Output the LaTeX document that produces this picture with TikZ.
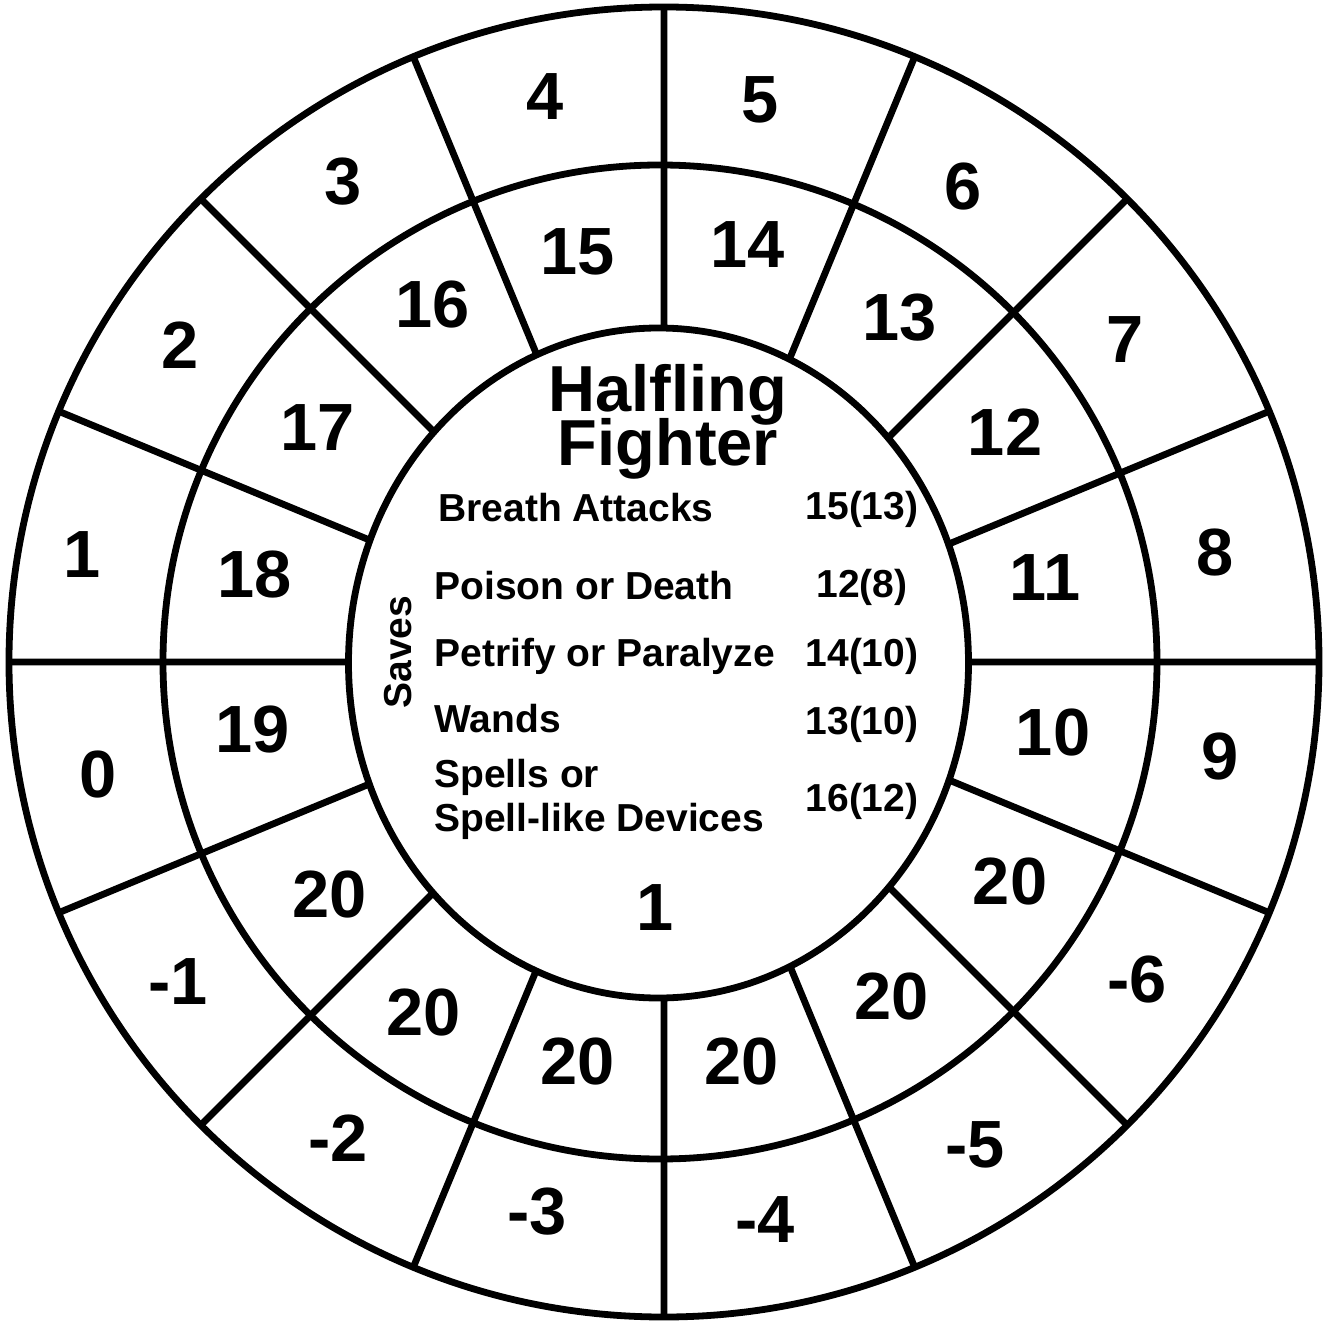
\documentclass[tikz,border=0pt]{standalone}
\usepackage{fontspec}
\setmainfont{Liberation Sans}
\begin{document}
\begin{tikzpicture}[line width=0.068cm,
  num/.style={font=\bfseries\fontsize{19}{19}\selectfont,inner sep=0pt},
  title/.style={anchor=base,font=\bfseries\fontsize{18.5}{18.5}\selectfont,inner sep=0pt},
  row/.style={anchor=base west,font=\bfseries\fontsize{11.1}{13}\selectfont,inner sep=0pt},
  val/.style={anchor=base,font=\bfseries\fontsize{11.1}{13}\selectfont,inner sep=0pt}]
\useasboundingbox (-6.64,-6.60) rectangle (6.59,6.62);
% rings and spokes
\draw (0,0) circle (6.55);
\draw (-0.04,0) circle (4.97);
\draw (0:6.55) -- (180:6.55) (22.5:6.55) -- (202.5:6.55)
      (45:6.55) -- (225:6.55) (67.5:6.55) -- (247.5:6.55)
      (90:6.55) -- (270:6.55) (112.5:6.55) -- (292.5:6.55)
      (135:6.55) -- (315:6.55) (157.5:6.55) -- (337.5:6.55);
\filldraw[fill=white] (-0.055,-0.01) ellipse [x radius=3.10, y radius=3.35];
% outer ring
\node[num] (o5) at (0.96,5.62) {5};
\node[num] (o6) at (2.99,4.75) {6};
\node[num] (o7) at (4.61,3.22) {7};
\node[num] (o8) at (5.51,1.09) {8};
\node[num] (o9) at (5.56,-0.95) {9};
\node[num] (om6) at (4.73,-3.18) {-6};
\node[num] (om5) at (3.11,-4.83) {-5};
\node[num] (om4) at (1.01,-5.58) {-4};
\node[num] (om3) at (-1.27,-5.50) {-3};
\node[num] (om2) at (-3.26,-4.76) {-2};
\node[num] (om1) at (-4.86,-3.20) {-1};
\node[num] (o0) at (-5.66,-1.13) {0};
\node[num] (o1) at (-5.82,1.07) {1};
\node[num] (o2) at (-4.84,3.17) {2};
\node[num] (o3) at (-3.21,4.80) {3};
\node[num] (o4) at (-1.19,5.65) {4};
% inner ring
\node[num] (i14) at (0.84,4.17) {14};
\node[num] (i13) at (2.36,3.44) {13};
\node[num] (i12) at (3.41,2.30) {12};
\node[num] (i11) at (3.81,0.84) {11};
\node[num] (i10) at (3.89,-0.71) {10};
\node[num] (i20a) at (3.46,-2.20) {20};
\node[num] (i20b) at (2.28,-3.35) {20};
\node[num] (i20c) at (0.78,-4.00) {20};
\node[num] (i20d) at (-0.86,-4.00) {20};
\node[num] (i20e) at (-2.40,-3.50) {20};
\node[num] (i20f) at (-3.34,-2.33) {20};
\node[num] (i19) at (-4.11,-0.68) {19};
\node[num] (i18) at (-4.09,0.87) {18};
\node[num] (i17) at (-3.46,2.34) {17};
\node[num] (i16) at (-2.31,3.57) {16};
\node[num] (i15) at (-0.86,4.10) {15};
% centre
\node[title] (halfling) at (0.04,2.50) {Halfling};
\node[title] (fighter) at (0.04,1.96) {Fighter};
\node[row] (breath) at (-2.29,1.41) {Breath Attacks};
\node[row] (poison) at (-2.33,0.63) {Poison or Death};
\node[row] (petrify) at (-2.33,-0.04) {Petrify or Paralyze};
\node[row] (wands) at (-2.33,-0.70) {Wands};
\node[row] (spells) at (-2.33,-1.25) {Spells or};
\node[row] (devices) at (-2.33,-1.69) {Spell-like Devices};
\node[val] (vbreath) at (1.98,1.43) {15(13)};
\node[val] (vpoison) at (1.98,0.65) {12(8)};
\node[val] (vpetrify) at (1.98,-0.04) {14(10)};
\node[val] (vwands) at (1.98,-0.72) {13(10)};
\node[val] (vspells) at (1.98,-1.49) {16(12)};
\node[rotate=90,font=\bfseries\fontsize{11.1}{13}\selectfont,inner sep=0pt] (saves) at (-2.66,0.10) {Saves};
\node[num] (c1) at (-0.09,-2.46) {1};
\end{tikzpicture}
\end{document}
